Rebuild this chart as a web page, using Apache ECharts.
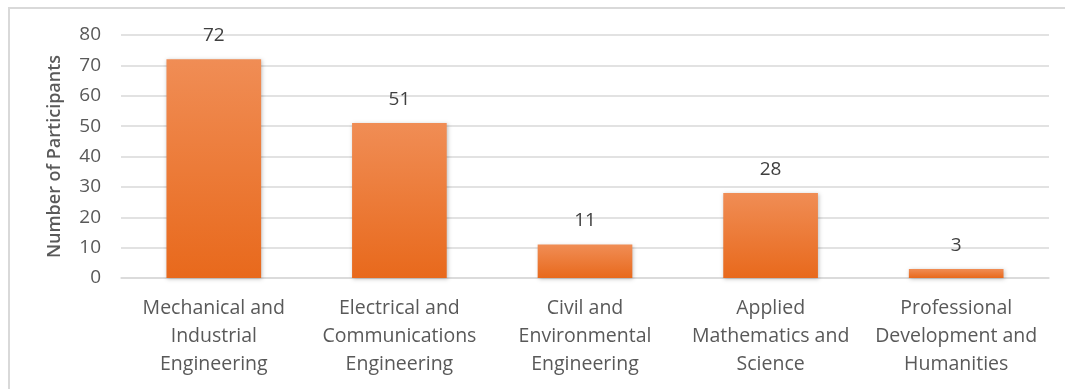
<!DOCTYPE html>
<html>
<head>
<meta charset="utf-8">
<script src="https://cdn.jsdelivr.net/npm/echarts@6/dist/echarts.min.js"></script>
<style>
  html, body { margin: 0; padding: 0; background: #fff; }
  #frame { position: absolute; left: 8px; top: 7px; width: 1070px; height: 400px; border: 2px solid #d9d9d9; box-sizing: border-box; }
  #chart { position: absolute; left: 0; top: 0; width: 1065px; height: 389px; }
</style>
</head>
<body>
<div id="frame"></div>
<div id="chart"></div>
<script>
// Participants per department
const categories = [
  'Mechanical and\nIndustrial\nEngineering',
  'Electrical and\nCommunications\nEngineering',
  'Civil and\nEnvironmental\nEngineering',
  'Applied\nMathematics and\nScience',
  'Professional\nDevelopment and\nHumanities'
];
const participants = [72, 51, 11, 28, 3];
const yTicks = [0, 10, 20, 30, 40, 50, 60, 70, 80];

const FONT = '"Open Sans", "Noto Sans", sans-serif';
const chart = echarts.init(document.getElementById('chart'), null, { renderer: 'canvas' });

chart.setOption({
  animation: false,
  backgroundColor: 'transparent',
  grid: { left: 121, right: 16, top: 35, bottom: 111 },
  xAxis: {
    type: 'category',
    data: categories,
    axisLine: { show: true, lineStyle: { color: '#d9d9d9', width: 1.5 } },
    axisTick: { show: false },
    axisLabel: {
      color: '#595959', fontFamily: FONT, fontSize: 19.5, lineHeight: 28,
      margin: 16, interval: 0
    }
  },
  yAxis: {
    type: 'value',
    min: yTicks[0],
    max: yTicks[yTicks.length - 1],
    interval: 10,
    name: 'Number of Participants',
    nameLocation: 'middle',
    nameGap: 57,
    nameTextStyle: { color: '#595959', fontFamily: FONT, fontSize: 18, fontWeight: 600 },
    axisLine: { show: false },
    axisTick: { show: false },
    splitLine: { lineStyle: { color: '#d9d9d9', width: 1.5 } },
    axisLabel: { color: '#595959', fontFamily: FONT, fontSize: 19, margin: 20 }
  },
  series: [{
    type: 'bar',
    data: participants,
    barWidth: '51%',
    itemStyle: {
      color: new echarts.graphic.LinearGradient(0, 0, 0, 1, [
        { offset: 0, color: '#f08d55' },
        { offset: 1, color: '#e8691c' }
      ]),
      shadowColor: 'rgba(0,0,0,0.25)',
      shadowBlur: 4,
      shadowOffsetX: 1,
      shadowOffsetY: 1
    },
    label: {
      show: true, position: 'top', distance: 14,
      color: '#404040', fontFamily: FONT, fontSize: 19
    }
  }]
});
</script>
</body>
</html>
